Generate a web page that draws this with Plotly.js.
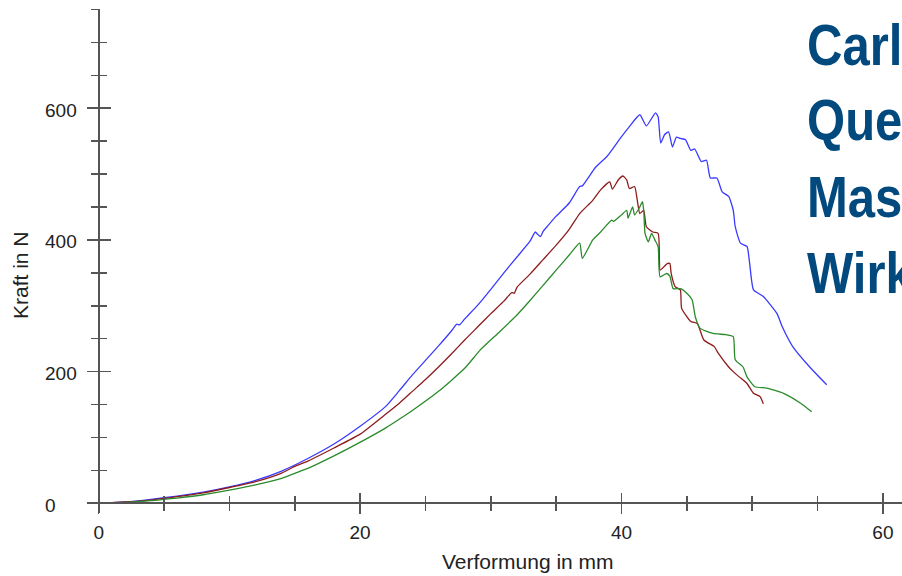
<!DOCTYPE html>
<html>
<head>
<meta charset="utf-8">
<script src="https://cdn.plot.ly/plotly-3.0.1.min.js"></script>
<style>html,body{margin:0;padding:0;background:#fff;}#chart{width:902px;height:576px;}</style>
</head>
<body>
<div id="chart"></div>
<script>
// ---- data (Verformung in mm / Kraft in N) ----
const blueX = [0,2,4,6,8,10,12,14,16,18,20,22,23,24,25,26,27,27.4,27.6,28,29,30,31,32,33,33.4,33.6,33.8,34.0,34.3,35,36,36.8,37.0,38,38.9,39.9,40.6,41.4,41.9,42.6,42.8,43.0,43.3,43.6,43.9,44.2,44.5,44.9,45.3,45.6,46.1,46.5,46.8,47.3,47.7,48.2,48.55,48.7,49.1,49.6,49.8,50.1,50.85,51.9,52.3,53.1,54.4,55.7];
const blueY = [0,2,6,11,17,25,35,49,68,90,117,148,171,195,217,239,262,272,271,280,301,325,350,374,398,412,408,405,413,420,436,456,481,482,510,527,554,572,590,573,593,587,547,560,564,541,556,554,552,536,538,519,521,494,494,473,466,445,420,395,390,365,324,314,288,268,238,207,180];

const redX = [0,2,4,6,8,10,12,14,15,16,18,20,22,23,24,25,26,27,28,29,30,31,31.6,31.8,32,33,34,35,36,36.8,37.8,38.4,39.1,39.3,39.75,40.1,40.4,40.6,41.0,41.2,41.4,41.7,41.9,42.4,42.8,42.9,42.95,43.5,43.7,43.8,44.1,44.5,44.6,45.3,45.8,46.3,47.1,47.4,48.2,48.55,49.0,49.6,50.1,50.6,50.85];
const redY = [0,2,5,10,16,24,33,46,56,64,84,105,136,152,170,188,207,227,248,268,288,307,320,319,328,348,370,392,416,440,460,476,488,477,491,497,491,478,481,461,440,445,420,412,410,370,354,364,364,349,329,324,296,276,273,248,238,228,207,200,192,182,167,162,151];

const greenX = [0,2,4,5,6,8,10,12,14,15,16,18,19.84,22,22.9,24,26,28,29.2,30.7,32,33,34,35,36,36.8,37.0,37.8,38.4,39.25,39.4,40.0,40.4,40.5,40.85,41.0,41.4,41.6,41.7,41.8,42.05,42.3,42.55,42.8,42.95,43.45,43.7,43.95,44.5,45.0,45.4,45.65,46.0,47.0,48.0,48.55,48.7,49.3,49.6,50.2,51.1,52.4,53.7,54.55];
const greenY = [0,1.5,4,6,8,13,20,28,38,45.6,53,72,91,115,126.5,141,170,205,233,261,286,308,331,354,377,395,372,400,412,430,428,438,445,433,450,438,450,458,445,410,397,410,400,390,344,349,345,326,326,319,309,283,266,258,256,253,218,207,192,177,175,167,152,139];

const xTickVals = [0,20,40,60];
const yTickVals = [0,200,400,600];
const sideWords = ["Carl","Que","Mas","Wirk"];

// ---- layout helpers ----
const W = 902, H = 576;
const mL = 87, mR = 0, mT = 9, mB = 63;
const plotW = W - mL - mR, plotH = H - mT - mB;
const xRange = [-0.895, 61.46];
const yRange = [-14.7, 750.6];
const yAxisPos = (0 - xRange[0]) / (xRange[1] - xRange[0]);
const xAxisPos = (0 - yRange[0]) / (yRange[1] - yRange[0]);
const px2paperX = p => (p - mL) / plotW;
const px2paperY = p => (H - mB - p) / plotH;

const axisColor = '#555';
const font = 'Liberation Sans, Arial, Helvetica, sans-serif';
const textColor = '#222';

const lineStyle = c => ({color:c, width:1.3, shape:'spline', smoothing:0.5});
const traces = [
  {x: blueX, y: blueY, type:'scatter', mode:'lines', line:lineStyle('#3a3aff'), hoverinfo:'skip'},
  {x: redX, y: redY, type:'scatter', mode:'lines', line:lineStyle('#8e1c1c'), hoverinfo:'skip'},
  {x: greenX, y: greenY, type:'scatter', mode:'lines', line:lineStyle('#2b8a2b'), hoverinfo:'skip'},
  {x: [], y: [], xaxis:'x2', yaxis:'y2', type:'scatter', mode:'lines', hoverinfo:'skip', showlegend:false}
];

const baseAxis = {
  showgrid:false, zeroline:false, fixedrange:true, anchor:'free',
  tickmode:'array', tickcolor:axisColor, tickwidth:1.5
};

const annotations = [];
yTickVals.forEach(v => annotations.push({
  xref:'paper', yref:'y', x: px2paperX(43), y: v, xanchor:'left', yanchor:'middle',
  text: String(v), showarrow:false, font:{family:font, size:19, color:textColor}, yshift:-2
}));
annotations.push({
  xref:'paper', yref:'paper', x: px2paperX(527.5), y: px2paperY(561), xanchor:'center', yanchor:'middle',
  text:'Verformung in mm', showarrow:false, font:{family:font, size:21, color:textColor}
});
annotations.push({
  xref:'paper', yref:'paper', x: px2paperX(20), y: px2paperY(275), xanchor:'center', yanchor:'middle',
  text:'Kraft in N', textangle:-90, showarrow:false, font:{family:font, size:21, color:textColor}
});
const firstWordIdx = annotations.length;
const wordCenters = [45, 120, 197, 273];
sideWords.forEach((w, i) => annotations.push({
  xref:'paper', yref:'paper', x: px2paperX(805), y: px2paperY(wordCenters[i]), xanchor:'left', yanchor:'middle',
  text:'<b>' + w + '</b>', showarrow:false, font:{family:font, size:57, color:'#02497d'}
}));

const layout = {
  width: W, height: H,
  margin: {l:mL, r:mR, t:mT, b:mB, pad:0},
  paper_bgcolor:'#fff', plot_bgcolor:'#fff',
  showlegend:false,
  xaxis: Object.assign({}, baseAxis, {
    range: xRange, position: xAxisPos, showline:true, linecolor:axisColor, linewidth:2,
    ticks:'outside', ticklen:10, tickvals: xTickVals, ticktext: xTickVals.map(String),
    tickfont:{family:font, size:19, color:textColor}, ticklabelstandoff:2,
    minor:{ticks:'outside', ticklen:7, tickmode:'linear', tick0:0, dtick:5, tickcolor:axisColor, tickwidth:1.5, showgrid:false}
  }),
  xaxis2: Object.assign({}, baseAxis, {
    overlaying:'x', range: xRange, position: xAxisPos, showline:false,
    ticks:'inside', ticklen:10, tickvals: xTickVals, showticklabels:false,
    minor:{ticks:'inside', ticklen:7, tickmode:'linear', tick0:0, dtick:5, tickcolor:axisColor, tickwidth:1.5, showgrid:false}
  }),
  yaxis: Object.assign({}, baseAxis, {
    range: yRange, position: yAxisPos, showline:true, linecolor:axisColor, linewidth:2,
    ticks:'outside', ticklen:11, tickvals: yTickVals, showticklabels:false,
    minor:{ticks:'outside', ticklen:7, tickmode:'linear', tick0:0, dtick:50, tickcolor:axisColor, tickwidth:1.5, showgrid:false}
  }),
  yaxis2: Object.assign({}, baseAxis, {
    overlaying:'y', range: yRange, position: yAxisPos, showline:false,
    ticks:'inside', ticklen:11, tickvals: yTickVals, showticklabels:false,
    minor:{ticks:'inside', ticklen:7, tickmode:'linear', tick0:0, dtick:50, tickcolor:axisColor, tickwidth:1.5, showgrid:false}
  }),
  annotations: annotations
};

Plotly.newPlot('chart', traces, layout, {staticPlot:true, displayModeBar:false}).then(() => {
  // condense the large side words horizontally (the reference uses a narrow bold face)
  document.querySelectorAll('g.annotation').forEach(g => {
    const idx = +g.getAttribute('data-index');
    if (idx >= firstWordIdx) {
      const t = g.querySelector('text');
      if (t) {
        t.style.transformBox = 'fill-box';
        t.style.transformOrigin = 'left center';
        t.style.transform = 'scaleX(0.86)';
      }
    }
  });
});
</script>
</body>
</html>
